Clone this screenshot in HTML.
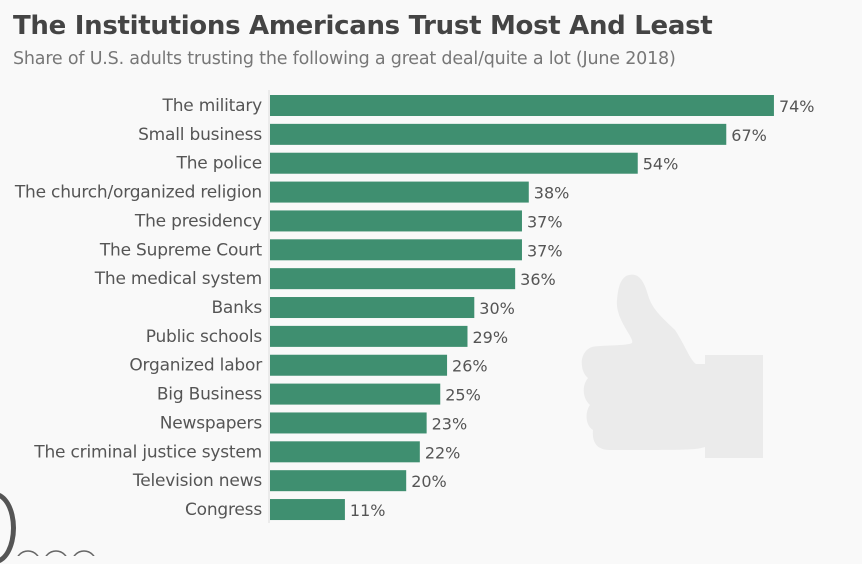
<!DOCTYPE html>
<html><head><meta charset="utf-8"><style>
body{margin:0;width:862px;height:556px;background:#f9f9f9;overflow:hidden;font-family:"DejaVu Sans",sans-serif;position:relative}
#title{position:absolute;left:13px;top:11px;font-size:26px;font-weight:bold;color:#444;white-space:nowrap;letter-spacing:-0.3px}
#sub{position:absolute;left:13px;top:49px;font-size:17.5px;color:#777;white-space:nowrap;letter-spacing:-0.2px}
svg{position:absolute;left:0;top:0}
</style></head><body>
<div id="title">The Institutions Americans Trust Most And Least</div>
<div id="sub">Share of U.S. adults trusting the following a great deal/quite a lot (June 2018)</div>
<svg id="chart" width="862" height="556">
<g fill="#ebebeb">
<path d="M626,276 C640,270 645,285 648,295 C652,310 665,320 675,330 C685,345 690,360 696,364 L705,364 L705,447 C695,450 690,450 610,450 C595,450 592,440 593,430 C585,425 585,412 590,405 C582,398 582,385 588,378 C580,372 578,352 592,347 C600,345 628,346 632,343 C635,338 615,320 617,300 C618,288 620,280 626,276 Z"/>
<rect x="705" y="355" width="58" height="103"/>
</g>
<line x1="269" y1="90" x2="269" y2="523" stroke="#ddd" stroke-width="1"/>
<g id="bars"></g>
<g fill="none" stroke="#666" stroke-width="1.5">
<circle cx="28" cy="563" r="12"/><circle cx="56" cy="563" r="12"/><circle cx="84" cy="563" r="12"/>
</g>
</svg>
<div style="position:absolute;left:-26px;top:492px;width:32px;height:62px;border:5px solid #555;border-radius:50%"></div>
<script>
const categories=["The military","Small business","The police","The church/organized religion","The presidency","The Supreme Court","The medical system","Banks","Public schools","Organized labor","Big Business","Newspapers","The criminal justice system","Television news","Congress"];
const values=[74,67,54,38,37,37,36,30,29,26,25,23,22,20,11];
const valueLabels=["74%","67%","54%","38%","37%","37%","36%","30%","29%","26%","25%","23%","22%","20%","11%"];
const x=v=>270+v*6.81;
const y=i=>95+i*28.86;
const g=document.getElementById('bars');
const NS="http://www.w3.org/2000/svg";
categories.forEach((c,i)=>{
 const r=document.createElementNS(NS,'rect');
 r.setAttribute('x',270);r.setAttribute('y',y(i));r.setAttribute('width',x(values[i])-270);r.setAttribute('height',21);r.setAttribute('fill','#3f8f70');
 
 
 g.appendChild(r);
 const t=document.createElementNS(NS,'text');
 t.setAttribute('x',262);t.setAttribute('y',y(i)+16);t.setAttribute('text-anchor','end');t.setAttribute('font-size','17');t.setAttribute('fill','#555');t.setAttribute('font-family','DejaVu Sans, sans-serif');t.setAttribute('letter-spacing','-0.2');
 t.textContent=c;
 
 
 g.appendChild(t);
 const v=document.createElementNS(NS,'text');
 v.setAttribute('x',x(values[i])+5);v.setAttribute('y',y(i)+17);v.setAttribute('font-size','16');v.setAttribute('fill','#555');v.setAttribute('font-family','DejaVu Sans, sans-serif');
 v.textContent=valueLabels[i];
 
 
 g.appendChild(v);
});
</script>
</body></html>
